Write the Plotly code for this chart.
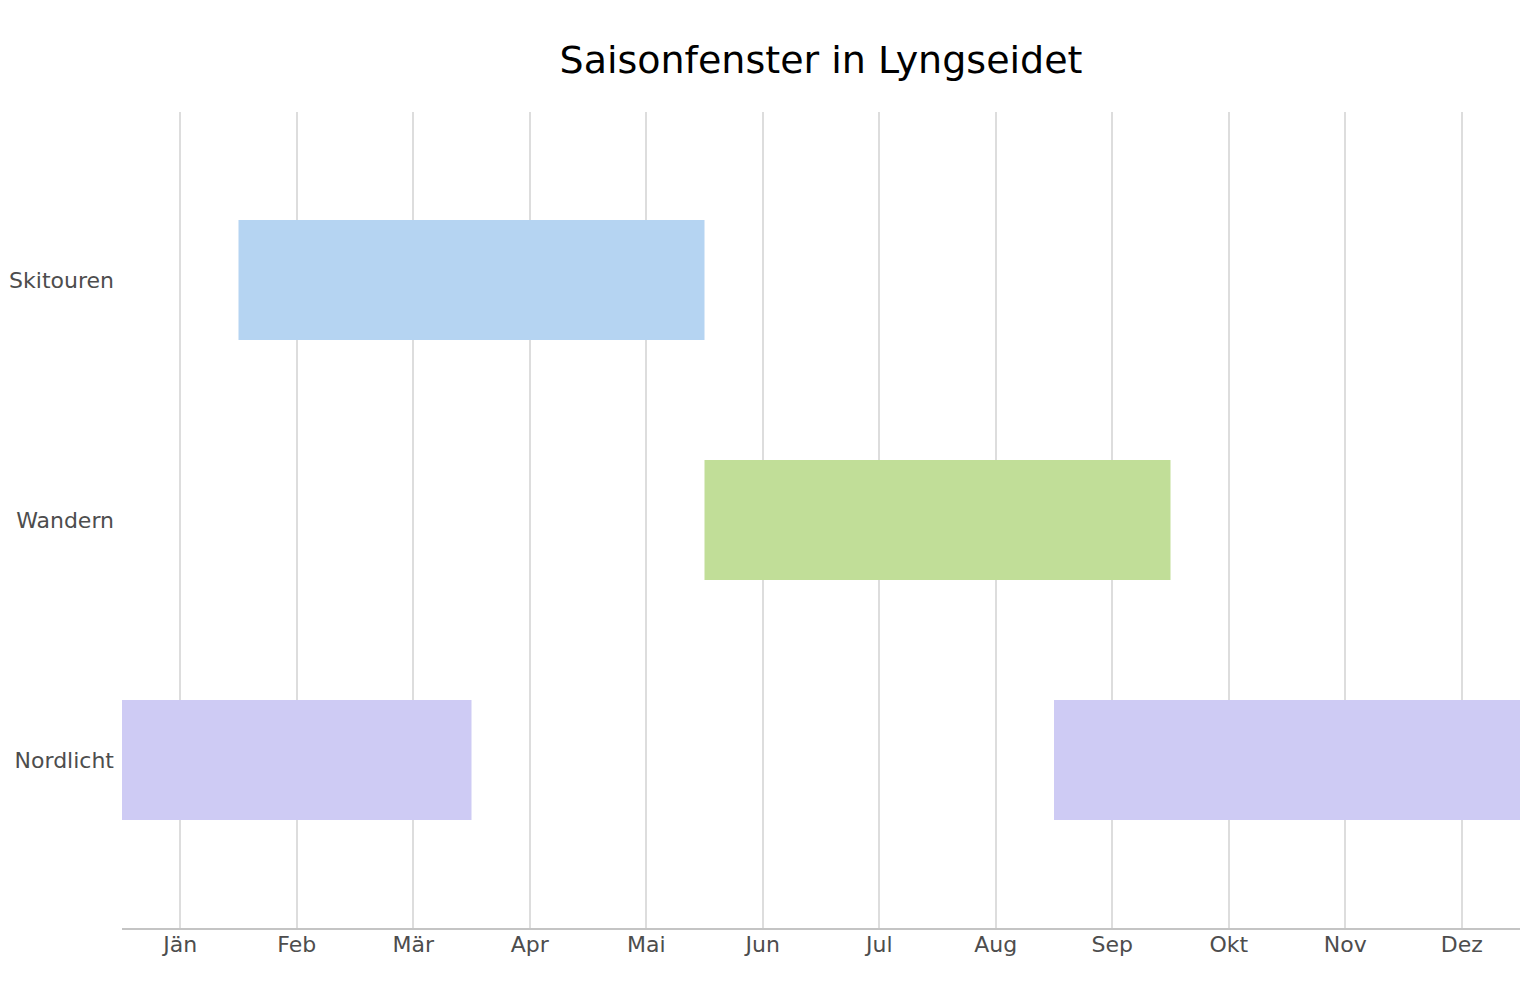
import plotly.graph_objects as go

# Saisonfenster: Start- und Endmonat (inklusive), Index 0 = Jän
months = ["Jän", "Feb", "Mär", "Apr", "Mai", "Jun",
          "Jul", "Aug", "Sep", "Okt", "Nov", "Dez"]
activities = ["Skitouren", "Wandern", "Nordlicht", "Nordlicht"]
start_month = [1, 5, 0, 8]
end_month = [4, 8, 2, 11]
colors = ["#b5d4f2", "#c1de98", "#cecbf4", "#cecbf4"]

base = [s - 0.5 for s in start_month]
length = [e - s + 1 for s, e in zip(start_month, end_month)]

fig = go.Figure()
fig.add_trace(go.Bar(
    y=activities,
    x=length,
    base=base,
    orientation="h",
    width=0.5,
    marker=dict(color=colors, line=dict(width=0)),
    showlegend=False,
))

fig.update_layout(
    width=1528,
    height=1000,
    margin=dict(l=114, r=16, t=104, b=80),
    paper_bgcolor="white",
    plot_bgcolor="white",
    font=dict(family="DejaVu Sans", color="#4d4d4d", size=22),
    title=dict(text="Saisonfenster in Lyngseidet", x=0.5, xref="paper",
               y=0.948, yref="container", xanchor="center", yanchor="middle",
               font=dict(size=38, color="black")),
)
fig.update_xaxes(
    range=[-0.5, 11.5],
    tickvals=list(range(12)),
    ticktext=months,
    showgrid=True, gridcolor="#dddddd", gridwidth=2,
    showline=True, linecolor="#c4c4c4", linewidth=2,
    zeroline=False, ticks="", automargin=False,
    ticklabelstandoff=-4,
)
fig.update_yaxes(
    categoryorder="array",
    categoryarray=["Skitouren", "Wandern", "Nordlicht"],
    range=[2.7, -0.7],
    showgrid=False, showline=False, zeroline=False, ticks="",
    ticklabelstandoff=7, automargin=False,
)

fig.write_html("out.html")
